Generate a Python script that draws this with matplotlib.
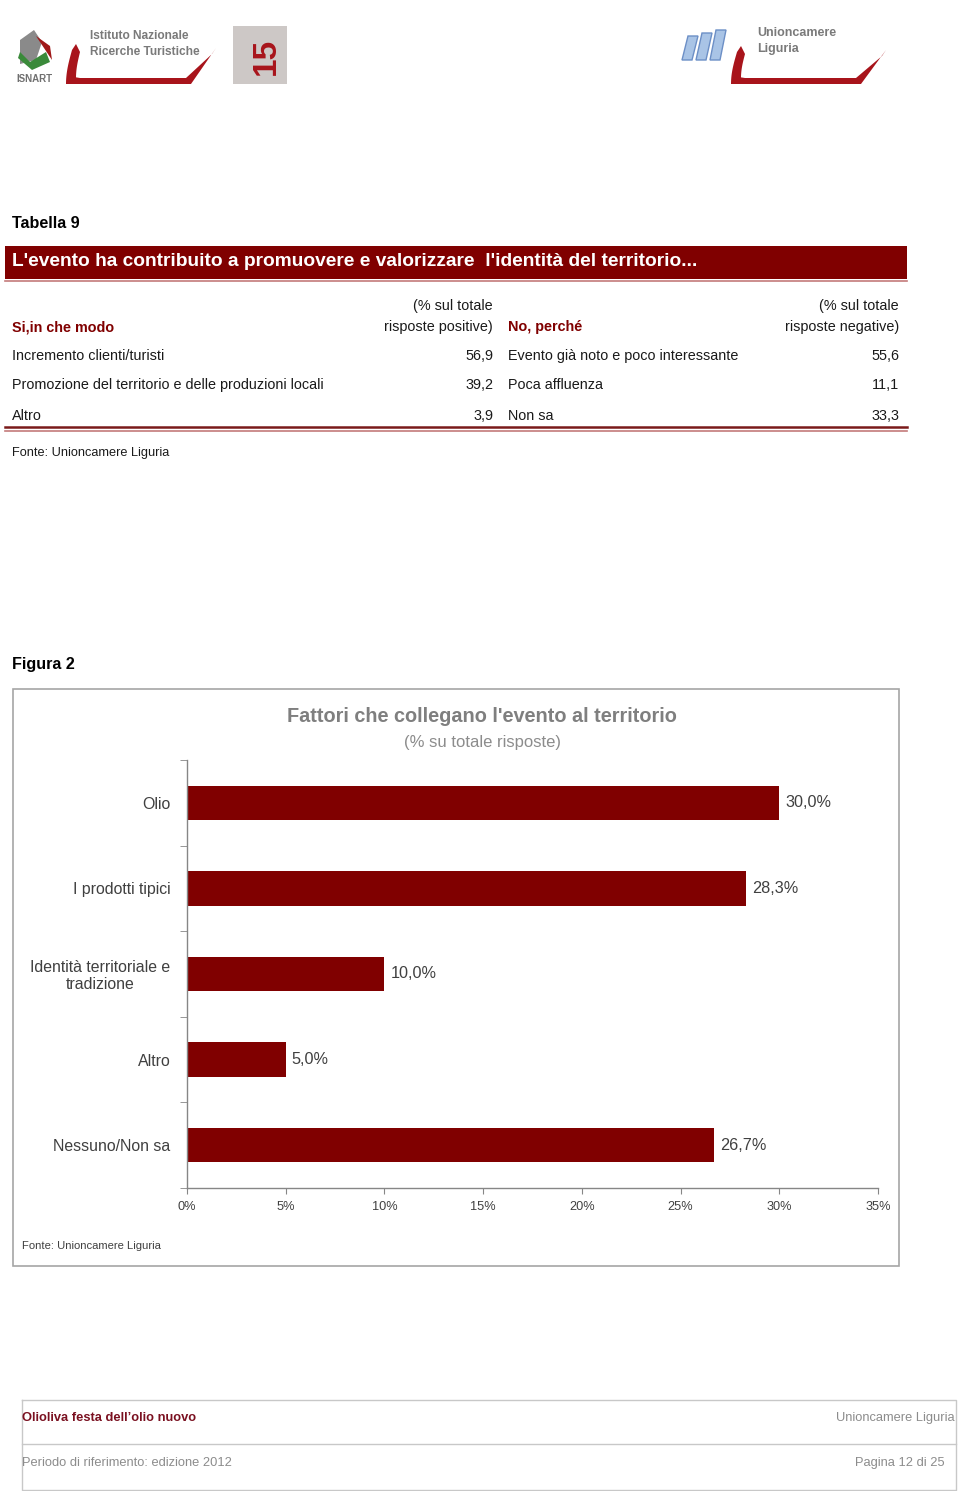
import numpy as np
import matplotlib
matplotlib.use('Agg')
from matplotlib import pyplot as plt
from matplotlib.patches import Rectangle, Polygon
from matplotlib.ticker import FixedLocator

################
# Data Storage #
################

table_pos_labels = ['Incremento clienti/turisti',
                    'Promozione del territorio e delle produzioni locali',
                    'Altro']
table_pos_values = ['56,9', '39,2', '3,9']
table_neg_labels = ['Evento già noto e poco interessante',
                    'Poca affluenza',
                    'Non sa']
table_neg_values = ['55,6', '11,1', '33,3']

categories = ['Olio', 'I prodotti tipici', 'Identità territoriale e\ntradizione',
              'Altro', 'Nessuno/Non sa']
values = [30.0, 28.3, 10.0, 5.0, 26.7]
x_ticks = [0, 5, 10, 15, 20, 25, 30, 35]

##############################
# MatPlotLib Initializations #
##############################

plt.rcParams['font.family'] = ['Liberation Sans', 'DejaVu Sans']

W, H = 960, 1491
dark_red = '#800000'
text_col = '#1a1a1a'
chart_txt = '#404040'
tab_fs = 10.4  # table body font size

fig = plt.figure(figsize=(W / 100, H / 100), dpi=100)

# page axes in pixel coordinates
page = fig.add_axes([0, 0, 1, 1])
page.set_xlim(0, W)
page.set_ylim(H, 0)
page.axis('off')

#########
# Logos #
#########

# ISNART mark
page.add_patch(Polygon([(20, 40), (34, 30), (42, 42), (36, 60), (20, 64)],
                       closed=True, fc='#8a8a8a', ec='none'))
page.add_patch(Polygon([(18, 58), (32, 70), (50, 62), (46, 52), (30, 62), (20, 52)],
                       closed=True, fc='#3a8a3a', ec='none'))
page.add_patch(Polygon([(36, 36), (50, 46), (52, 60), (44, 48)],
                       closed=True, fc='#a01818', ec='none'))
page.text(34, 79, 'ISNART', fontsize=7, color='#707070', ha='center', va='center',
          fontweight='bold')


def swoosh(x0, x1, y_top, y_bot):
    t = np.linspace(0, 1, 40)
    xs = x0 + 6 - 6 * np.sin(t * np.pi / 2)
    ys = y_top + (y_bot - y_top) * t
    upper = list(zip(xs, ys))
    bottom = [(x0 + 12, y_bot), (x1 - 25, y_bot)]
    tip = [(x1, y_top - 2), (x1 - 4, y_top + 4), (x1 - 30, y_bot - 6),
           (x0 + 14, y_bot - 6)]
    inner_t = t[::-1]
    inner = list(zip(x0 + 14 - 4 * np.sin(inner_t * np.pi / 2),
                     y_top + 2 + (y_bot - 6 - y_top - 2) * inner_t))
    pts = [(x0 + 10, y_top - 6)] + upper + bottom + tip + inner[1:]
    page.add_patch(Polygon(pts, closed=True, fc='#a8141b', ec='none'))


swoosh(66, 216, 50, 84)
page.text(90, 36, 'Istituto Nazionale', fontsize=8.6, color='#7a7a7a',
          va='center', fontweight='bold')
page.text(90, 52, 'Ricerche Turistiche', fontsize=8.6, color='#7a7a7a',
          va='center', fontweight='bold')

# "150" square
page.add_patch(Rectangle((233, 26), 54, 58, fc='#cdc8c6', ec='none'))
page.text(266, 56, '15', fontsize=24, color='#a8141b', rotation=90,
          ha='center', va='center', fontweight='bold')

# Unioncamere mark
for i, dx in enumerate([0, 14, 28]):
    page.add_patch(Polygon([(682 + dx, 60), (688 + dx, 36 - i * 3), (698 + dx, 36 - i * 3),
                            (692 + dx, 60)], closed=True, fc='#a9c4e6', ec='#6c8fc6'))
swoosh(731, 886, 52, 84)
page.text(757, 33, 'Unioncamere', fontsize=9, color='#7a7a7a',
          va='center', fontweight='bold')
page.text(757, 49, 'Liguria', fontsize=9, color='#7a7a7a',
          va='center', fontweight='bold')

#############
# Tabella 9 #
#############

page.text(12, 223, 'Tabella 9', fontsize=11.6, fontweight='bold', color='black', va='center')
page.add_patch(Rectangle((5, 246), 902, 33, fc=dark_red, ec='none'))
page.plot([5, 907], [281, 281], color='#c47a7a', lw=1.2)
page.text(12, 262, "L'evento ha contribuito a promuovere e valorizzare  l'identità del territorio...",
          fontsize=13.8, fontweight='bold', color='white', va='center')

page.text(493, 306, '(% sul totale', fontsize=tab_fs, color=text_col, ha='right', va='center')
page.text(493, 327, 'risposte positive)', fontsize=tab_fs, color=text_col, ha='right', va='center')
page.text(899, 306, '(% sul totale', fontsize=tab_fs, color=text_col, ha='right', va='center')
page.text(899, 327, 'risposte negative)', fontsize=tab_fs, color=text_col, ha='right', va='center')
page.text(12, 327, 'Si,in che modo', fontsize=tab_fs, fontweight='bold', color=dark_red, va='center')
page.text(508, 327, 'No, perché', fontsize=tab_fs, fontweight='bold', color=dark_red, va='center')

row_y = [356, 385, 416]
for y, lab, val, nlab, nval in zip(row_y, table_pos_labels, table_pos_values,
                                   table_neg_labels, table_neg_values):
    page.text(12, y, lab, fontsize=tab_fs, color=text_col, va='center')
    page.text(493, y, val, fontsize=tab_fs, color=text_col, ha='right', va='center')
    page.text(508, y, nlab, fontsize=tab_fs, color=text_col, va='center')
    page.text(899, y, nval, fontsize=tab_fs, color=text_col, ha='right', va='center')

page.plot([5, 907], [427, 427], color='#7a1a1a', lw=1.8)
page.plot([5, 907], [430.5, 430.5], color='#c47a7a', lw=1.2)
page.text(12, 453, 'Fonte: Unioncamere Liguria', fontsize=9.2, color=text_col, va='center')

############
# Figura 2 #
############

page.text(12, 665, 'Figura 2', fontsize=11.6, fontweight='bold', color='black', va='center')
page.add_patch(Rectangle((13, 689), 886, 577, fc='none', ec='#a6a6a6', lw=1.2))
page.text(482, 716, "Fattori che collegano l'evento al territorio", fontsize=14.3,
          color='#7f7f7f', ha='center', va='center', fontweight='bold')
page.text(482, 742, '(% su totale risposte)', fontsize=12, color='#8c8c8c',
          ha='center', va='center')
page.text(22, 1246, 'Fonte: Unioncamere Liguria', fontsize=8.1, color=chart_txt, va='center')

# bar chart axes placed in pixel box
left, right, top, bottom = 187, 878, 760, 1188
ax = fig.add_axes([left / W, 1 - bottom / H, (right - left) / W, (bottom - top) / H])
ax.patch.set_alpha(0)
y_pos = np.arange(len(categories))
ax.barh(y_pos, values, height=0.4, color=dark_red, linewidth=0)
for y, v in zip(y_pos, values):
    ax.text(v + 0.3, y, f'{v:.1f}%'.replace('.', ','), fontsize=11.7,
            color=chart_txt, va='center', ha='left')
ax.set_xlim(0, 35)
ax.set_ylim(len(categories) - 0.5, -0.5)
ax.set_yticks(y_pos)
ax.set_yticklabels(categories, fontsize=11.4, color=chart_txt, linespacing=1.15,
                   multialignment='center')
ax.yaxis.set_minor_locator(FixedLocator(np.arange(-0.5, len(categories), 1.0)))
ax.tick_params(axis='y', which='major', length=0, pad=12)
ax.tick_params(axis='y', which='minor', length=5, color='#868686', direction='out')
ax.set_xticks(x_ticks)
ax.set_xticklabels([f'{t}%' for t in x_ticks], fontsize=9.2, color=chart_txt)
ax.tick_params(axis='x', length=4, color='#868686', pad=5)
for s in ['top', 'right']:
    ax.spines[s].set_visible(False)
for s in ['left', 'bottom']:
    ax.spines[s].set_color('#868686')
    ax.spines[s].set_linewidth(1)

##########
# Footer #
##########

page.plot([22, 956, 956, 22, 22], [1400, 1400, 1490, 1490, 1400], color='#c8c8c8', lw=1)
page.plot([22, 956], [1444, 1444], color='#c8c8c8', lw=1)
page.text(22, 1418, "Olioliva festa dell\u2019olio nuovo", fontsize=9.3, color='#7a1020',
          va='center', fontweight='bold')
page.text(955, 1418, 'Unioncamere Liguria', fontsize=9.3, color='#8c8c8c', ha='right', va='center')
page.text(22, 1463, 'Periodo di riferimento: edizione 2012', fontsize=9.3, color='#8c8c8c',
          va='center')
page.text(945, 1463, 'Pagina 12 di 25', fontsize=9.3, color='#8c8c8c', ha='right', va='center')

fig.savefig('out.png', dpi=100)
